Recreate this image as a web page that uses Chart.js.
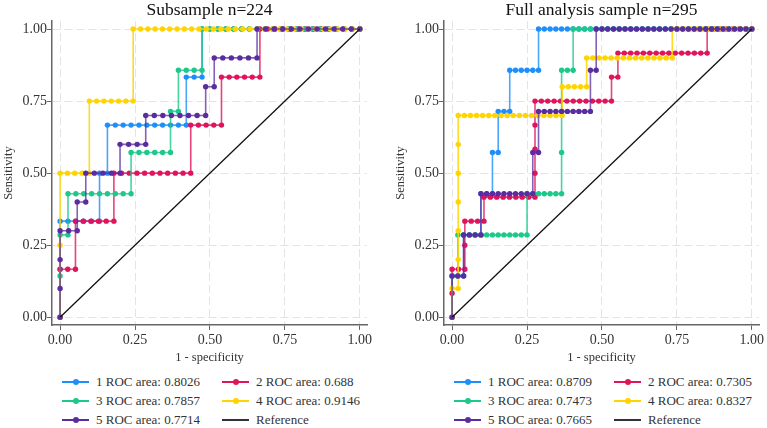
<!DOCTYPE html>
<html>
<head>
<meta charset="utf-8">
<script src="https://cdn.jsdelivr.net/npm/chart.js@4.4.1/dist/chart.umd.min.js"></script>
<style>
  body { margin: 0; background: #fff; width: 767px; height: 428px; overflow: hidden; position: relative; font-family: 'Liberation Serif', serif; }
  .panel { position: absolute; top: 0; width: 375px; height: 428px; }
  #leftPanel { left: 0; }
  #rightPanel { left: 392px; }
  .legend { position: absolute; left: 0; top: 372px; width: 375px; height: 56px; }
  .item { position: absolute; height: 19px; line-height: 19px; font-size: 13px; color: #333; white-space: nowrap; }
  .mark { position: absolute; left: 0; top: 9px; width: 27px; height: 2px; }
  .mark i { position: absolute; left: 10.5px; top: -2px; width: 6px; height: 6px; border-radius: 50%; }
  .txt { position: absolute; left: 34px; }
</style>
</head>
<body>
<div class="panel" id="leftPanel">
  <canvas id="subChart" width="375" height="365"></canvas>
  <div class="legend" id="subLegend"></div>
</div>
<div class="panel" id="rightPanel">
  <canvas id="fullChart" width="375" height="365"></canvas>
  <div class="legend" id="fullLegend"></div>
</div>
<script>
// each curve: [false positives, true positives] at every cut point
const subROC1 = [[0,0],[0,1],[0,2],[1,2],[2,2],[3,2],[4,2],[5,2],[5,3],[6,3],[6,4],[7,4],[8,4],[9,4],[10,4],[11,4],[12,4],[13,4],[14,4],[15,4],[16,4],[16,5],[17,5],[18,5],[18,6],[19,6],[20,6],[21,6],[22,6],[23,6],[24,6],[25,6],[26,6],[27,6],[28,6],[29,6],[30,6],[31,6],[32,6],[33,6],[34,6],[35,6],[36,6],[37,6],[38,6]];
const subROC2 = [[0,0],[0,1],[1,1],[2,1],[2,2],[3,2],[4,2],[5,2],[6,2],[7,2],[7,3],[8,3],[9,3],[10,3],[11,3],[12,3],[13,3],[14,3],[15,3],[16,3],[17,3],[17,4],[18,4],[19,4],[20,4],[21,4],[21,5],[22,5],[23,5],[24,5],[25,5],[26,5],[26,6],[27,6],[28,6],[29,6],[30,6],[31,6],[32,6],[33,6],[34,6],[35,6],[36,6],[37,6],[38,6],[39,6]];
const subROC3 = [[0,0],[0,1],[0,2],[1,2],[1,3],[2,3],[3,3],[4,3],[5,3],[6,3],[7,3],[8,3],[9,3],[9,4],[10,4],[11,4],[12,4],[13,4],[14,4],[14,5],[15,5],[15,6],[16,6],[17,6],[18,6],[18,7],[19,7],[20,7],[21,7],[22,7],[23,7],[24,7],[25,7],[26,7],[27,7],[28,7],[29,7],[30,7],[31,7],[32,7],[33,7],[34,7],[35,7],[36,7],[37,7],[38,7]];
const subROC4 = [[0,0],[0,1],[0,2],[1,2],[2,2],[3,2],[4,2],[4,3],[5,3],[6,3],[7,3],[8,3],[9,3],[10,3],[10,4],[11,4],[12,4],[13,4],[14,4],[15,4],[16,4],[17,4],[18,4],[19,4],[20,4],[21,4],[22,4],[23,4],[24,4],[25,4],[26,4],[27,4],[28,4],[29,4],[30,4],[31,4],[32,4],[33,4],[34,4],[35,4],[36,4],[37,4],[38,4],[39,4],[40,4],[41,4]];
const subROC5 = [[0,0],[0,1],[0,2],[0,3],[1,3],[2,3],[2,4],[3,4],[3,5],[4,5],[5,5],[6,5],[7,5],[7,6],[8,6],[9,6],[10,6],[10,7],[11,7],[12,7],[13,7],[14,7],[15,7],[16,7],[17,7],[17,8],[18,8],[18,9],[19,9],[20,9],[21,9],[22,9],[23,9],[23,10],[24,10],[25,10],[26,10],[27,10],[28,10],[29,10],[30,10],[31,10],[32,10],[33,10],[34,10],[35,10]];

const fullROC1 = [[0,0],[0,1],[1,1],[2,1],[2,2],[3,2],[4,2],[5,2],[5,3],[6,3],[7,3],[7,4],[8,4],[8,5],[9,5],[10,5],[10,6],[11,6],[12,6],[13,6],[14,6],[15,6],[15,7],[16,7],[17,7],[18,7],[19,7],[20,7],[21,7],[22,7],[23,7],[24,7],[25,7],[26,7],[27,7],[28,7],[29,7],[30,7],[31,7],[32,7],[33,7],[34,7],[35,7],[36,7],[37,7],[38,7],[39,7],[40,7],[41,7],[42,7],[43,7],[44,7],[45,7],[46,7],[47,7],[48,7],[49,7],[50,7],[51,7],[52,7]];
const fullROC2 = [[0,0],[0,1],[0,2],[1,2],[2,2],[2,3],[2,4],[3,4],[4,4],[5,4],[5,5],[6,5],[7,5],[8,5],[9,5],[10,5],[11,5],[12,5],[13,5],[13,6],[13,7],[13,8],[13,9],[14,9],[15,9],[16,9],[17,9],[18,9],[19,9],[20,9],[21,9],[22,9],[23,9],[24,9],[25,9],[25,10],[26,10],[26,11],[27,11],[28,11],[29,11],[30,11],[31,11],[32,11],[33,11],[34,11],[35,11],[36,11],[37,11],[38,11],[39,11],[40,11],[40,12],[41,12],[42,12],[43,12],[44,12],[45,12],[46,12],[47,12]];
const fullROC3 = [[0,0],[0,1],[1,1],[1,2],[2,2],[3,2],[4,2],[5,2],[6,2],[7,2],[8,2],[9,2],[10,2],[11,2],[12,2],[13,2],[13,3],[14,3],[15,3],[16,3],[17,3],[18,3],[19,3],[19,4],[19,5],[19,6],[20,6],[21,6],[21,7],[22,7],[23,7],[24,7],[25,7],[26,7],[27,7],[28,7],[29,7],[30,7],[31,7],[32,7],[33,7],[34,7],[35,7],[36,7],[37,7],[38,7],[39,7],[40,7],[41,7],[42,7],[43,7],[44,7],[45,7],[46,7],[47,7],[48,7],[49,7],[50,7],[51,7],[52,7]];
const fullROC4 = [[0,0],[0,1],[1,1],[1,2],[1,3],[1,4],[1,5],[1,6],[1,7],[2,7],[3,7],[4,7],[5,7],[6,7],[7,7],[8,7],[9,7],[10,7],[11,7],[12,7],[13,7],[14,7],[15,7],[16,7],[17,7],[18,7],[18,8],[19,8],[20,8],[21,8],[22,8],[22,9],[23,9],[24,9],[25,9],[26,9],[27,9],[28,9],[29,9],[30,9],[31,9],[32,9],[33,9],[34,9],[35,9],[36,9],[36,10],[37,10],[38,10],[39,10],[40,10],[41,10],[42,10],[43,10],[44,10],[45,10],[46,10],[47,10],[48,10],[49,10]];
const fullROC5 = [[0,0],[0,1],[1,1],[2,1],[2,2],[3,2],[4,2],[5,2],[5,3],[6,3],[7,3],[8,3],[9,3],[10,3],[11,3],[12,3],[13,3],[14,3],[14,4],[15,4],[15,5],[16,5],[17,5],[18,5],[19,5],[20,5],[21,5],[22,5],[23,5],[24,5],[24,6],[25,6],[25,7],[26,7],[27,7],[28,7],[29,7],[30,7],[31,7],[32,7],[33,7],[34,7],[35,7],[36,7],[37,7],[38,7],[39,7],[40,7],[41,7],[42,7],[43,7],[44,7],[45,7],[46,7],[47,7],[48,7],[49,7],[50,7],[51,7],[52,7]];

// group sizes (negatives / positives) per curve
const subNeg = [38, 39, 38, 41, 35];
const subPos = [6, 6, 7, 4, 10];
const fullNeg = [52, 47, 52, 49, 52];
const fullPos = [7, 12, 7, 10, 7];

const subAUC = ['0.8026', '0.688', '0.7857', '0.9146', '0.7714'];
const fullAUC = ['0.8709', '0.7305', '0.7473', '0.8327', '0.7665'];

const refLine = [[0, 0], [1, 1]];
const axisTicks = [0, 0.25, 0.5, 0.75, 1];

const colors = ['#1e8ffa', '#e0145c', '#1cc98a', '#ffd400', '#5a2ca0'];
const lineColors = ['rgba(30,143,250,0.8)', 'rgba(224,20,92,0.8)', 'rgba(28,201,138,0.8)', 'rgba(255,212,0,0.85)', 'rgba(90,44,160,0.75)'];
const FONT = "'Liberation Serif', 'Times New Roman', serif";

Chart.defaults.font.family = FONT;
Chart.defaults.color = '#333';

function axisOpts(isX){
  return {
    type: 'linear',
    min: -0.027,
    max: isX ? 1.024 : 1.028,
    afterBuildTicks: function(scale){ scale.ticks = axisTicks.map(v => ({value: v})); },
    afterFit: function(scale){
      if (isX) scale.height = 40; else scale.width = 52;
    },
    ticks: {
      callback: v => v.toFixed(2),
      font: {size: 14, family: FONT},
      color: '#333',
      padding: isX ? 2 : 0,
      maxRotation: 0,
      autoSkip: false
    },
    grid: {
      color: '#e4e4e4',
      lineWidth: 1,
      tickLength: 5,
      tickColor: '#666',
      tickWidth: 1,
      tickBorderDash: []
    },
    border: { display: true, color: '#666', width: 1.5, dash: [8, 4] },
    title: {
      display: true,
      text: isX ? '1 - specificity' : 'Sensitivity',
      font: {size: 12.5, family: FONT},
      color: '#333',
      padding: isX ? {top: 0, bottom: 0} : {top: 1, bottom: 0}
    }
  };
}

function makeChart(id, title, curves, neg, pos){
  const datasets = curves.map((c, i) => ({
    data: c.map(p => ({x: p[0] / neg[i], y: p[1] / pos[i]})),
    showLine: true,
    borderColor: lineColors[i],
    borderWidth: 1.6,
    pointRadius: 2.7,
    pointBackgroundColor: colors[i],
    pointBorderWidth: 0,
    order: 5 - i
  }));
  datasets.push({
    data: refLine.map(p => ({x: p[0], y: p[1]})),
    showLine: true,
    borderColor: '#111',
    borderWidth: 1.3,
    pointRadius: 0,
    order: 0
  });

  return new Chart(document.getElementById(id), {
    type: 'scatter',
    data: { datasets: datasets },
    options: {
      responsive: false,
      animation: false,
      devicePixelRatio: 1,
      events: [],
      layout: { padding: {left: 0, right: 8, top: 0, bottom: 0} },
      plugins: {
        legend: { display: false },
        tooltip: { enabled: false },
        title: {
          display: true,
          text: title,
          fullSize: false,
          color: '#111',
          font: {size: 17.5, weight: 'normal', family: FONT},
          padding: {top: 0, bottom: 0}
        }
      },
      scales: { x: axisOpts(true), y: axisOpts(false) }
    }
  });
}

function makeLegend(id, aucs){
  const box = document.getElementById(id);
  const labels = aucs.map((a, i) => (i + 1) + ' ROC area: ' + a).concat(['Reference']);
  const cols = [62, 222];
  labels.forEach((lab, i) => {
    const item = document.createElement('div');
    item.className = 'item';
    item.style.left = cols[i % 2] + 'px';
    item.style.top = (Math.floor(i / 2) * 19) + 'px';
    const mark = document.createElement('span');
    mark.className = 'mark';
    if (i < 5) {
      mark.style.background = colors[i];
      const dot = document.createElement('i');
      dot.style.background = colors[i];
      mark.appendChild(dot);
    } else {
      mark.style.background = '#333';
    }
    const txt = document.createElement('span');
    txt.className = 'txt';
    txt.textContent = lab;
    item.appendChild(mark);
    item.appendChild(txt);
    box.appendChild(item);
  });
}

makeChart('subChart', 'Subsample n=224', [subROC1, subROC2, subROC3, subROC4, subROC5], subNeg, subPos);
makeChart('fullChart', 'Full analysis sample n=295', [fullROC1, fullROC2, fullROC3, fullROC4, fullROC5], fullNeg, fullPos);
makeLegend('subLegend', subAUC);
makeLegend('fullLegend', fullAUC);
</script>
</body>
</html>
